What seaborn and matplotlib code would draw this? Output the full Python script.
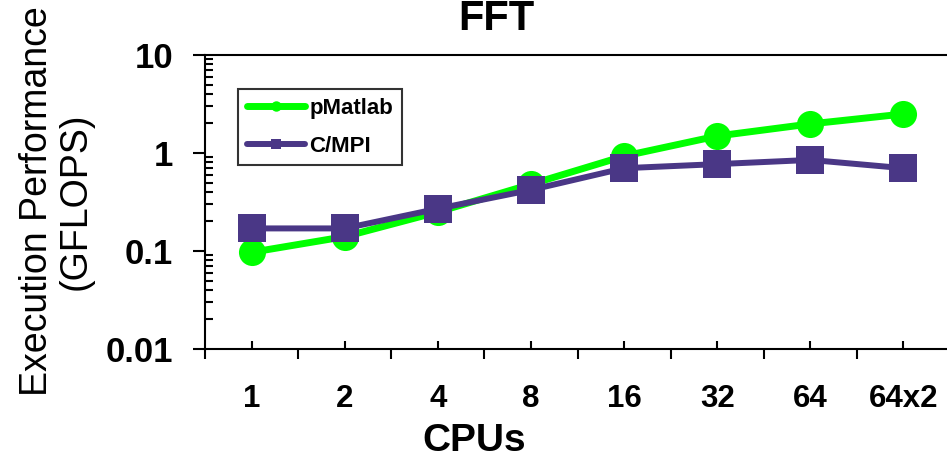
import matplotlib
matplotlib.use("Agg")
import matplotlib.pyplot as plt
from matplotlib.lines import Line2D
from matplotlib.ticker import LogLocator, FixedLocator, NullFormatter
import seaborn as sns
import pandas as pd

cpus = ["1", "2", "4", "8", "16", "32", "64", "64x2"]
pmatlab = [0.097, 0.14, 0.25, 0.48, 0.93, 1.49, 1.98, 2.5]
cmpi = [0.17, 0.17, 0.27, 0.42, 0.70, 0.77, 0.85, 0.70]
series_names = ["pMatlab", "C/MPI"]
y_ticks = [0.01, 0.1, 1, 10]
y_tick_labels = ["0.01", "0.1", "1", "10"]

GREEN = "#00FF00"
PURPLE = "#4A3786"

sns.set_theme(style="white")
plt.rcParams["font.family"] = ["Liberation Sans", "DejaVu Sans"]
plt.rcParams["text.color"] = "black"
plt.rcParams["axes.labelcolor"] = "black"
plt.rcParams["xtick.color"] = "black"
plt.rcParams["ytick.color"] = "black"

df = pd.DataFrame({
    "CPUs": cpus * 2,
    "val": pmatlab + cmpi,
    "series": [series_names[0]] * len(cpus) + [series_names[1]] * len(cpus),
})

fig = plt.figure(figsize=(9.47, 4.59), dpi=100)
ax = fig.add_axes([205 / 947, 1 - 349 / 459, 745 / 947, (349 - 55) / 459])

sns.lineplot(data=df[df.series == "pMatlab"], x="CPUs", y="val", ax=ax, sort=False,
             color=GREEN, linewidth=5, marker="o", markersize=19.5,
             markeredgewidth=0, legend=False)
sns.lineplot(data=df[df.series == "C/MPI"], x="CPUs", y="val", ax=ax, sort=False,
             color=PURPLE, linewidth=4.3, marker="s", markersize=19.5,
             markeredgewidth=0, legend=False)

ax.set_yscale("log")
ax.set_ylim(0.01, 10)
ax.set_xlim(-0.5, len(cpus) - 0.5)

ax.yaxis.set_major_locator(FixedLocator(y_ticks))
ax.set_yticklabels(y_tick_labels, fontsize=25, fontweight="bold", color="black")
ax.yaxis.set_minor_locator(LogLocator(base=10, subs=range(2, 10)))
ax.yaxis.set_minor_formatter(NullFormatter())
ax.tick_params(axis="y", which="major", direction="out", length=9, width=1.5,
               color="black", pad=14, left=True)
ax.tick_params(axis="y", which="minor", direction="in", length=6, width=1.5,
               color="black", left=True)

ax.set_xticks(range(len(cpus)))
ax.set_xticklabels(cpus, fontsize=22.5, fontweight="bold", color="black")
ax.xaxis.set_minor_locator(FixedLocator([i - 0.5 for i in range(len(cpus) + 1)]))
ax.tick_params(axis="x", which="major", direction="in", length=6, width=1.5,
               color="black", pad=25, bottom=True)
ax.tick_params(axis="x", which="minor", direction="out", length=7, width=1.5,
               color="black", bottom=True)

for side in ["left", "bottom", "top"]:
    ax.spines[side].set_visible(True)
    ax.spines[side].set_color("black")
    ax.spines[side].set_linewidth(1.5)
ax.spines["right"].set_visible(False)
ax.grid(False)

ax.set_xlabel("CPUs", fontsize=28, fontweight="bold", color="black")
ax.xaxis.set_label_coords((474 - 205) / 745, -(441 - 349) / 294)
ax.xaxis.label.set_va("center")
ax.set_ylabel("Execution Performance\n(GFLOPS)", fontsize=27, linespacing=1.1,
              color="black")
ax.yaxis.set_label_coords(-(205 - 56) / 745, (349 - 201) / 294)
ax.yaxis.label.set_va("center")
fig.text(496 / 947, 1 - 19 / 459, "FFT", fontsize=30, fontweight="bold",
         ha="center", va="center", color="black")

handles = [
    Line2D([], [], color=GREEN, linewidth=5, marker="o", markersize=7.5, markeredgewidth=0),
    Line2D([], [], color=PURPLE, linewidth=4.3, marker="s", markersize=7.5, markeredgewidth=0),
]
leg = ax.legend(handles, series_names, loc="upper left",
                bbox_to_anchor=((238 - 205) / 745, (349 - 89) / 294),
                prop={"size": 16, "weight": "bold"}, frameon=True, fancybox=False,
                handlelength=2.6, borderpad=0.4, labelspacing=0.75, handletextpad=0.2,
                borderaxespad=0)
leg.get_frame().set_edgecolor("black")
leg.get_frame().set_linewidth(1.5)
for t in leg.get_texts():
    t.set_color("black")

fig.savefig("out.png", dpi=100)
